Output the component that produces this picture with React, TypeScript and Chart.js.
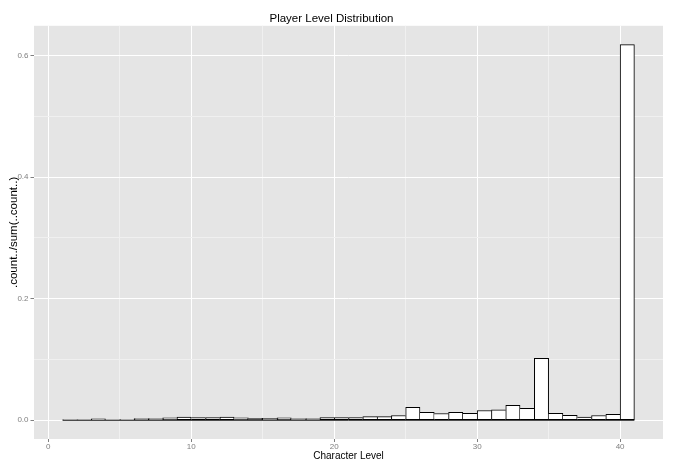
import React, { useEffect, useRef } from "react";
import { Chart, registerables } from "chart.js";

Chart.register(...registerables);

// Histogram bins (level bin start, width 1)
const binStart = [
  1, 2, 3, 4, 5, 6, 7, 8, 9, 10,
  11, 12, 13, 14, 15, 16, 17, 18, 19, 20,
  21, 22, 23, 24, 25, 26, 27, 28, 29, 30,
  31, 32, 33, 34, 35, 36, 37, 38, 39, 40,
];
const binWidth = 1;

// ..count../sum(..count..)
const proportion = [
  0.0004, 0.0004, 0.0022, 0.001, 0.001, 0.0027, 0.0027, 0.0038, 0.005, 0.0044,
  0.0044, 0.005, 0.0038, 0.0033, 0.003, 0.0038, 0.0027, 0.0027, 0.0044, 0.0044,
  0.0044, 0.006, 0.006, 0.0077, 0.021, 0.013, 0.011, 0.013, 0.0115, 0.016,
  0.017, 0.0245, 0.0195, 0.102, 0.0115, 0.008, 0.0052, 0.0077, 0.0096, 0.618,
];

const xMajorTicks = [0, 10, 20, 30, 40];
const xTickLabels = ["0", "10", "20", "30", "40"];
const yMajorTicks = [0, 0.2, 0.4, 0.6];
const yTickLabels = ["0.0", "0.2", "0.4", "0.6"];

const titleText = "Player Level Distribution";
const xTitle = "Character Level";
const yTitle = ".count../sum(..count..)";

const FONT = "'Liberation Sans', Arial, sans-serif";

const panelBg = {
  id: "panelBg",
  beforeDraw(chart: any) {
    const { ctx, chartArea } = chart;
    if (!chartArea) return;
    ctx.save();
    ctx.fillStyle = "#E5E5E5";
    ctx.fillRect(chartArea.left, chartArea.top, chartArea.right - chartArea.left, chartArea.bottom - chartArea.top);
    ctx.restore();
  },
};

function isMajor(list: number[], v: number) {
  return list.some((m) => Math.abs(m - v) < 1e-9);
}
function labelFor(list: number[], labels: string[], v: number) {
  const i = list.findIndex((m) => Math.abs(m - v) < 1e-9);
  return i >= 0 ? labels[i] : "";
}

export default function App() {
  const ref = useRef<HTMLCanvasElement | null>(null);

  useEffect(() => {
    if (!ref.current) return;
    const n = proportion.length;
    const dataMax = Math.max(...proportion);
    const xLo = binStart[0];
    const xHi = binStart[n - 1] + binWidth;
    const xPad = (xHi - xLo) * 0.05;
    const yPad = dataMax * 0.05;

    const chart = new Chart(ref.current, {
      type: "bar",
      data: {
        datasets: [
          {
            type: "line",
            data: [
              { x: xLo, y: 0 },
              { x: xHi, y: 0 },
            ],
            borderColor: "#000000",
            borderWidth: 1,
            pointRadius: 0,
          } as any,
          {
            type: "bar",
            data: binStart.map((s, i) => ({ x: s + binWidth / 2, y: proportion[i] })),
            backgroundColor: "#FFFFFF",
            borderColor: "#000000",
            borderSkipped: false,
            barPercentage: 1,
            categoryPercentage: 1,
            borderWidth: (c: any) => {
              const i = c.dataIndex;
              const h = proportion[i];
              const prev = i > 0 ? proportion[i - 1] : -1;
              const next = i < n - 1 ? proportion[i + 1] : -1;
              return { top: 1, bottom: 1, left: h >= prev ? 1 : 0, right: h > next ? 1 : 0 };
            },
          } as any,
        ],
      },
      options: {
        animation: false,
        responsive: false,
        events: [],
        layout: { padding: { left: 0, right: 11, top: 0, bottom: 0 } },
        plugins: {
          legend: { display: false },
          tooltip: { enabled: false },
          title: {
            display: true,
            text: titleText,
            color: "#000000",
            font: { family: FONT, size: 11.5, weight: "normal" },
            padding: { top: 11.5, bottom: 0.5 },
          },
        },
        scales: {
          x: {
            type: "linear",
            min: xLo - xPad,
            max: xHi + xPad,
            offset: false,
            border: { display: false },
            grid: {
              offset: false,
              color: (c: any) => (isMajor(xMajorTicks, c.tick?.value) ? "#FFFFFF" : "#F0F0F0"),
              lineWidth: 1,
              tickColor: (c: any) => (isMajor(xMajorTicks, c.tick?.value) ? "#7F7F7F" : "rgba(0,0,0,0)"),
              tickLength: 3,
            },
            ticks: {
              stepSize: 5,
              includeBounds: false,
              autoSkip: false,
              maxRotation: 0,
              padding: 0,
              color: "#7F7F7F",
              font: { family: FONT, size: 8 },
              callback: (v: any) => labelFor(xMajorTicks, xTickLabels, Number(v)),
            },
            title: {
              display: true,
              text: xTitle,
              color: "#000000",
              font: { family: FONT, size: 10 },
              padding: { top: 0, bottom: 8 },
            },
            afterFit: (s: any) => {
              s.height = 31;
            },
          },
          y: {
            type: "linear",
            min: -yPad,
            max: dataMax + yPad,
            border: { display: false },
            grid: {
              offset: false,
              color: (c: any) => (isMajor(yMajorTicks, c.tick?.value) ? "#FFFFFF" : "#F0F0F0"),
              lineWidth: 1,
              tickColor: (c: any) => (isMajor(yMajorTicks, c.tick?.value) ? "#7F7F7F" : "rgba(0,0,0,0)"),
              tickLength: 3.5,
            },
            ticks: {
              stepSize: 0.1,
              includeBounds: false,
              autoSkip: false,
              padding: 2,
              color: "#7F7F7F",
              font: { family: FONT, size: 8 },
              callback: (v: any) => labelFor(yMajorTicks, yTickLabels, Number(v)),
            },
            title: {
              display: true,
              text: yTitle,
              color: "#000000",
              font: { family: FONT, size: 11.5 },
              padding: { top: 7, bottom: 0 },
            },
            afterFit: (s: any) => {
              s.width = 34;
            },
          },
        },
      } as any,
      plugins: [panelBg],
    });
    return () => chart.destroy();
  }, []);

  return (
    <div style={{ position: "absolute", left: 0, top: 0, width: 674, height: 470, background: "#FFFFFF" }}>
      <canvas ref={ref} width={674} height={470} style={{ width: 674, height: 470, display: "block" }} />
    </div>
  );
}
